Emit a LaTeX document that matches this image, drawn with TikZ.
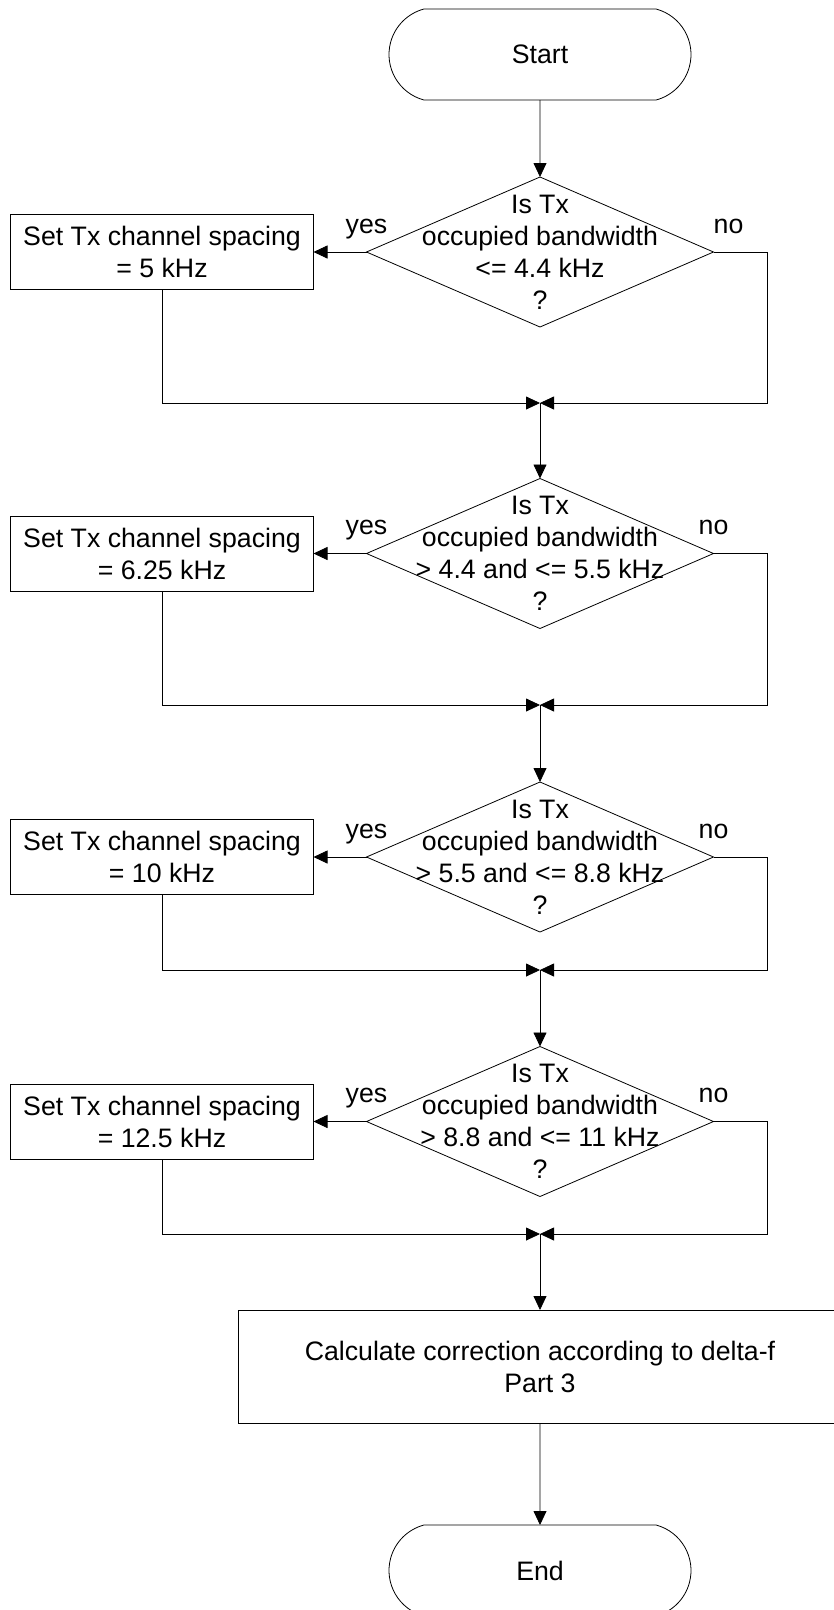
\documentclass[tikz,border=0pt]{standalone}
\usepackage{fontspec}
\setmainfont{Liberation Sans}
\usetikzlibrary{arrows.meta,calc,positioning,shapes.geometric,shapes.misc}

\begin{document}
\begin{tikzpicture}[x=1pt,y=-1pt,>={Triangle[length=14pt,width=13pt]},line cap=butt,line join=miter,
  every node/.style={font=\fontsize{26.7}{32}\selectfont},
  terminal/.style={rounded rectangle,rounded rectangle arc length=150,draw,line width=0.8pt,
    minimum width=302pt,minimum height=91pt,inner sep=0pt,outer sep=0pt},
  decision/.style={diamond,draw,line width=0.8pt,minimum width=347pt,minimum height=150pt,
    inner sep=0pt,outer sep=0pt},
  process/.style={rectangle,draw,line width=0.8pt,minimum width=303pt,minimum height=75pt,
    align=center,inner sep=0pt,outer sep=0pt},
  dtext/.style={align=center,inner sep=0pt},
  lbl/.style={anchor=base,inner sep=0pt},
  flow/.style={->,line width=0.8pt}]

% Page size: 1 unit = 1 px of the drawing, y pointing down
\useasboundingbox (0,0) rectangle (834,1610);

% Column positions
\def\midx{540}
\def\leftx{162}
\def\rightx{767}

\node[terminal] (start) at (\midx,54.5) {Start};

% ---- DECISION 1 ----
\node[decision] (d1) at (\midx,252) {};
\node[dtext] (t1) at (d1.center) {Is Tx\\occupied bandwidth\\<= 4.4 kHz\\?};
\node[process] (b1) at (\leftx,252) {Set Tx channel spacing\\= 5 kHz};
\node[lbl] (y1) at ([yshift=19pt]d1.west) {yes};
\node[lbl] (n1) at ([xshift=15pt,yshift=19pt]d1.east) {no};
\coordinate (m1) at (\midx,403);
\coordinate (r1) at (\rightx,403);

% ---- DECISION 2 ----
\node[decision] (d2) at (\midx,553.5) {};
\node[dtext] (t2) at (d2.center) {Is Tx\\occupied bandwidth\\> 4.4 and <= 5.5 kHz\\?};
\node[process] (b2) at (\leftx,553.5) {Set Tx channel spacing\\= 6.25 kHz};
\node[lbl] (y2) at ([yshift=19pt]d2.west) {yes};
\node[lbl] (n2) at ([yshift=19pt]d2.east) {no};
\coordinate (m2) at (\midx,705);
\coordinate (r2) at (\rightx,705);

% ---- DECISION 3 ----
\node[decision] (d3) at (\midx,857) {};
\node[dtext] (t3) at (d3.center) {Is Tx\\occupied bandwidth\\> 5.5 and <= 8.8 kHz\\?};
\node[process] (b3) at (\leftx,857) {Set Tx channel spacing\\= 10 kHz};
\node[lbl] (y3) at ([yshift=19pt]d3.west) {yes};
\node[lbl] (n3) at ([yshift=19pt]d3.east) {no};
\coordinate (m3) at (\midx,970);
\coordinate (r3) at (\rightx,970);

% ---- DECISION 4 ----
\node[decision] (d4) at (\midx,1121.5) {};
\node[dtext] (t4) at (d4.center) {Is Tx\\occupied bandwidth\\> 8.8 and <= 11 kHz\\?};
\node[process] (b4) at (\leftx,1121.5) {Set Tx channel spacing\\= 12.5 kHz};
\node[lbl] (y4) at ([yshift=19pt]d4.west) {yes};
\node[lbl] (n4) at ([yshift=19pt]d4.east) {no};
\coordinate (m4) at (\midx,1234);
\coordinate (r4) at (\rightx,1234);

% ---- FINAL STEPS ----
\node[process,minimum width=604pt,minimum height=113pt] (calc) at (\midx,1366.5)
    {Calculate correction according to delta-f\\Part 3};
\node[terminal] (end) at (\midx,1570.5) {End};

% ---- CONNECTORS ----
\draw[flow] (start) -- (d1);
\draw[flow] (d1.west) -- (b1.east);
\draw[flow] (b1.south) |- (m1);
\draw[flow] (d1.east) -| (r1) -- (m1);
\draw[flow] (m1) -- (d2.north);

\draw[flow] (d2.west) -- (b2.east);
\draw[flow] (b2.south) |- (m2);
\draw[flow] (d2.east) -| (r2) -- (m2);
\draw[flow] (m2) -- (d3.north);

\draw[flow] (d3.west) -- (b3.east);
\draw[flow] (b3.south) |- (m3);
\draw[flow] (d3.east) -| (r3) -- (m3);
\draw[flow] (m3) -- (d4.north);

\draw[flow] (d4.west) -- (b4.east);
\draw[flow] (b4.south) |- (m4);
\draw[flow] (d4.east) -| (r4) -- (m4);
\draw[flow] (m4) -- (calc.north);
\draw[flow] (calc) -- (end);

\end{tikzpicture}
\end{document}
